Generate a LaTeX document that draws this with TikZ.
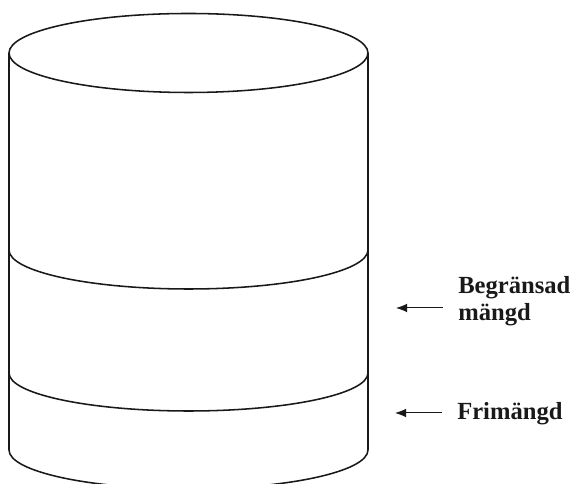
\documentclass[tikz,border=0pt]{standalone}
\usepackage{fontspec}
\setmainfont{Liberation Serif}
\usepackage{tikz}
\usetikzlibrary{positioning, arrows.meta}

\begin{document}
\begin{tikzpicture}[
    x=0.025cm, y=0.025cm,
    rim/.style={line width=1.1pt, black!90},
    arr/.style={-{Latex[length=0.28cm, width=0.22cm]}, line width=0.7pt, black!90,
                shorten <=0.375cm},
    lbl/.style={font=\fontsize{17.5}{19.2}\selectfont\bfseries, inner sep=0pt,
                align=left, text=black!90}]

  \clip (0,0) rectangle (574,484);

  % === Cylinder ===
  \draw[rim] (188.5,431) ellipse [x radius=179.5, y radius=39.5];
  \draw[rim] (9,431) -- (9,34)
    arc[start angle=180, end angle=360, x radius=179.5, y radius=39] -- (368,431);

  % Layer boundaries
  \draw[rim] (9,234) arc[start angle=180, end angle=360, x radius=179.5, y radius=39];
  \draw[rim] (9,111) arc[start angle=180, end angle=360, x radius=179.5, y radius=38];

  % === Labels ===
  \node[lbl, anchor=north west] (begr) at (458,207.8) {Begränsad\\mängd};
  \node[lbl, anchor=base west] (frim) at (457,64) {Frimängd};

  \coordinate (begr-tip) at (396,176);
  \coordinate (frim-tip) at (395,71);

  % === Arrows ===
  \draw[arr] (begr-tip -| begr.west) -- (begr-tip);
  \draw[arr] (frim-tip -| frim.west) -- (frim-tip);

\end{tikzpicture}
\end{document}
